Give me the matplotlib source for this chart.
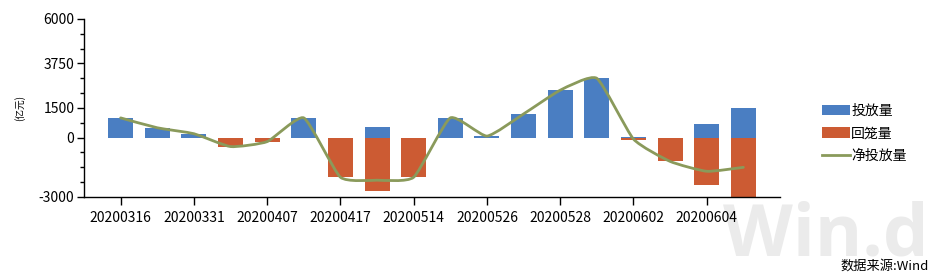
import matplotlib
matplotlib.use("Agg")
import matplotlib.pyplot as plt
from matplotlib.path import Path
from matplotlib.patches import PathPatch, Patch
from matplotlib.lines import Line2D
import numpy as np

plt.rcParams['font.family'] = ['Noto Sans CJK SC', 'DejaVu Sans']

# ---- data ----
tick_labels = ["20200316", "20200331", "20200407", "20200417", "20200514",
               "20200526", "20200528", "20200602", "20200604"]
injection = [1000, 500, 200, 0, 0, 1000, 0, 550, 0, 1000, 100, 1200, 2400, 3000, 30, 0, 700, 1500]
withdrawal = [0, 0, 0, -450, -200, 0, -2000, -2700, -2000, 0, -20, 0, 0, 0, -100, -1200, -2400, -3000]
net = [1000, 500, 200, -450, -200, 1000, -2000, -2150, -2000, 1000, 80, 1200, 2400, 3000, -70, -1200, -1700, -1500]
series_names = ["投放量", "回笼量", "净投放量"]
y_ticks = [6000, 3750, 1500, 0, -3000]

c_blue = "#4A7EC2"
c_red = "#CC5B33"
c_line = "#8A9A5B"

fig = plt.figure(figsize=(9.32, 2.74), dpi=100)
ax = fig.add_axes([84/932, 1-197/274, 696/932, 178/274])
ax.patch.set_alpha(0)

x = np.arange(len(injection))
w = 0.68
ax.bar(x, injection, width=w, color=c_blue, zorder=2)
ax.bar(x, withdrawal, width=w, color=c_red, zorder=2)

# smooth line (low-tension cardinal spline -> cubic Bezier)
k = 1.0 / 12.0
pts = np.column_stack([x, net]).astype(float)
verts = [tuple(pts[0])]
codes = [Path.MOVETO]
n = len(pts)
for i in range(n - 1):
    p0 = pts[i - 1] if i > 0 else pts[i]
    p1 = pts[i]
    p2 = pts[i + 1]
    p3 = pts[i + 2] if i + 2 < n else pts[i + 1]
    c1 = p1 + (p2 - p0) * k
    c2 = p2 - (p3 - p1) * k
    verts += [tuple(c1), tuple(c2), tuple(p2)]
    codes += [Path.CURVE4, Path.CURVE4, Path.CURVE4]
ax.add_patch(PathPatch(Path(verts, codes), facecolor="none", edgecolor=c_line,
                       lw=2, zorder=3, capstyle="round", joinstyle="round"))

ax.set_xlim(-1, len(injection))
ax.set_ylim(-3000, 6000)

for s in ["top", "right"]:
    ax.spines[s].set_visible(False)
for s in ["left", "bottom"]:
    ax.spines[s].set_linewidth(1.0)
    ax.spines[s].set_color("black")

ax.set_yticks(y_ticks)
ax.set_yticklabels([str(v) for v in y_ticks], fontsize=10)
ax.set_yticks(np.arange(-3000, 6001, 750), minor=True)
ax.tick_params(axis="y", which="major", length=5, width=1, pad=2)
ax.tick_params(axis="y", which="minor", length=3, width=1)

ax.set_xticks(x[::2])
ax.set_xticklabels(tick_labels, fontsize=10)
ax.tick_params(axis="x", which="major", length=6, width=1, pad=4)

ax.text((20 - 84) / 696, 0.5, "(亿元)", transform=ax.transAxes, rotation=90,
        fontsize=7, ha="center", va="center")

handles = [Patch(facecolor=c_blue), Patch(facecolor=c_red),
           Line2D([0], [0], color=c_line, lw=2)]
fig.legend(handles, series_names, loc="upper left", bbox_to_anchor=(815/932, 1-97/274),
           frameon=False, fontsize=10, handlelength=2.0, handleheight=0.8,
           handletextpad=0.1, labelspacing=0.6, borderpad=0)

fig.text(826/932, 1-237/274, "Win.d", fontsize=52, fontweight="bold",
         color="#EBEBEB", ha="center", va="center", family="Open Sans", zorder=-1)
fig.text(929/932, 1-266/274, "数据来源:Wind", fontsize=9.5, ha="right", va="center")

fig.savefig("out.png", dpi=100)
